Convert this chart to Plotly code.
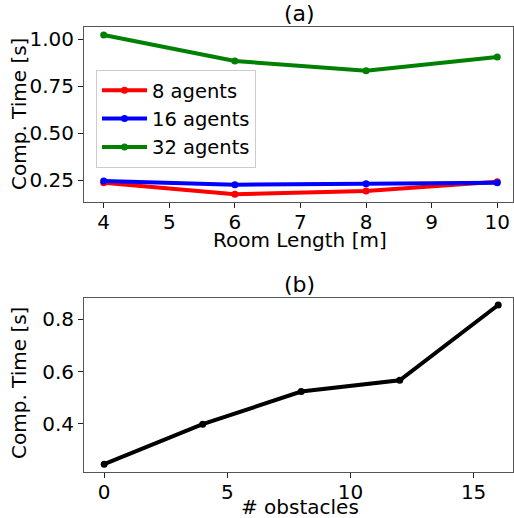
import plotly.graph_objects as go
from plotly.subplots import make_subplots

room_length = [4, 6, 8, 10]
agents_8 = [0.236, 0.174, 0.192, 0.241]
agents_16 = [0.245, 0.225, 0.230, 0.236]
agents_32 = [1.021, 0.883, 0.831, 0.904]

obstacles = [0, 4, 8, 12, 16]
comp_time_obs = [0.246, 0.399, 0.524, 0.567, 0.855]

FONT = "DejaVu Sans"
AX = "#555555"
FS = 20
W, H = 514, 518

fig = make_subplots(rows=2, cols=1)

for name, vals, col in [("8 agents", agents_8, "red"),
                        ("16 agents", agents_16, "blue"),
                        ("32 agents", agents_32, "green")]:
    fig.add_trace(go.Scatter(x=room_length, y=vals, name=name, mode="lines+markers",
                             line=dict(color=col, width=4),
                             marker=dict(color=col, size=7)), row=1, col=1)

fig.add_trace(go.Scatter(x=obstacles, y=comp_time_obs, mode="lines+markers",
                         showlegend=False,
                         line=dict(color="black", width=4),
                         marker=dict(color="black", size=7)), row=2, col=1)

axis_common = dict(showline=True, mirror=True, linecolor=AX, linewidth=1,
                   ticks="outside", ticklen=5, tickcolor="#222", tickwidth=1,
                   showgrid=False, zeroline=False, automargin=False,
                   tickfont=dict(family=FONT, size=FS, color="black"))


def txt(text, x, y, size=FS, angle=0):
    return dict(text=text, x=x / W, y=1 - y / H, xref="paper", yref="paper",
                xanchor="center", yanchor="middle", showarrow=False, textangle=angle,
                font=dict(family=FONT, size=size, color="black"))


fig.update_layout(
    width=W, height=H,
    margin=dict(l=0, r=0, t=0, b=0),
    paper_bgcolor="white", plot_bgcolor="white",
    font=dict(family=FONT, size=FS, color="black"),
    xaxis=dict(domain=[84 / W, 513 / W], range=[3.70, 10.24], tickvals=[4, 5, 6, 7, 8, 9, 10],
               ticklabelstandoff=-3, **axis_common),
    yaxis=dict(domain=[1 - 202 / H, 1 - 27 / H], range=[0.133, 1.064],
               tickvals=[0.25, 0.5, 0.75, 1.0], tickformat=".2f", **axis_common),
    xaxis2=dict(domain=[84 / W, 513 / W], range=[-0.82, 16.6], tickvals=[0, 5, 10, 15],
                ticklabelstandoff=-3, **axis_common),
    yaxis2=dict(domain=[1 - 472.3 / H, 1 - 297.7 / H], range=[0.215, 0.883],
                tickvals=[0.4, 0.6, 0.8], tickformat=".1f", **axis_common),
    legend=dict(x=96 / W, y=1 - 70 / H, xanchor="left", yanchor="top",
                bgcolor="rgba(255,255,255,0.85)", bordercolor="#cccccc", borderwidth=1,
                font=dict(family=FONT, size=19.5), tracegroupgap=0, itemwidth=45),
    annotations=[
        txt("(a)", 299.5, 14, size=22),
        txt("(b)", 299.5, 284, size=22),
        txt("Room Length [m]", 300, 240),
        txt("# obstacles", 300, 507),
        txt("Comp. Time [s]", 19, 114, angle=-90),
        txt("Comp. Time [s]", 19, 383, angle=-90),
    ],
)

fig.write_html("out.html", config={"displayModeBar": False},
               post_script="document.body.style.margin='0px';")
